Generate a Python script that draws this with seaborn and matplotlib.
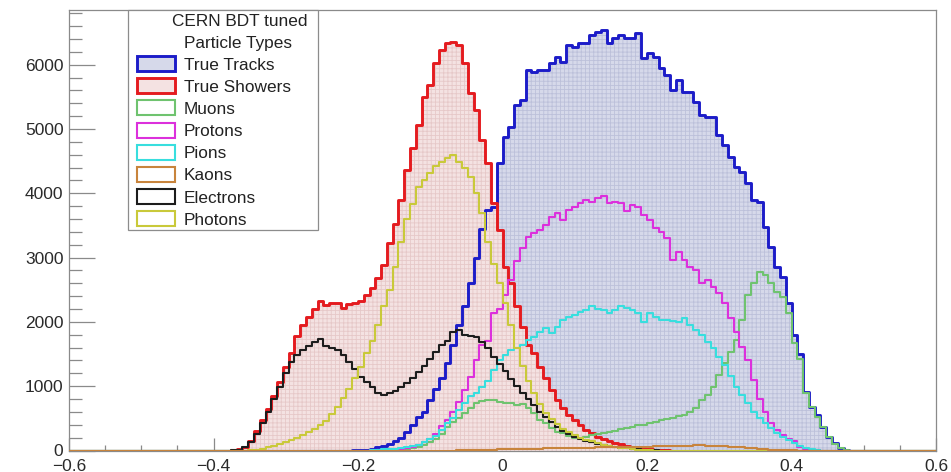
import numpy as np
import pandas as pd
import matplotlib
matplotlib.use("Agg")
import matplotlib.pyplot as plt
from matplotlib.patches import Rectangle
from matplotlib.ticker import MultipleLocator
import seaborn as sns

# ---------------- data (bin contents, 150 bins from -0.6 to 0.6) ----------------
n_bins = 150
x_lo, x_hi = -0.6, 0.6
first_bin = 27          # the lists below start at bin 27 (lower edge -0.384)

true_tracks = [
    0, 0, 0, 0, 0, 0, 0, 0, 0, 0,
    0, 0, 0, 0, 0, 0, 0, 0, 0, 0,
    0, 0, 5, 10, 15, 25, 50, 70, 100, 150,
    200, 290, 390, 520, 600, 780, 960, 1120, 1355, 1640,
    1950, 2250, 2600, 3000, 3450, 3740, 3790, 4465, 4880, 5035,
    5370, 5450, 5915, 5890, 5915, 5915, 6020, 6125, 6045, 6305,
    6280, 6330, 6330, 6460, 6510, 6540, 6330, 6410, 6460, 6410,
    6410, 6500, 6100, 6180, 6125, 5945, 5840, 5605, 5760, 5580,
    5580, 5425, 5220, 5190, 5190, 4905, 4750, 4570, 4415, 4335,
    4155, 3895, 3870, 3480, 3170, 2860, 2700, 2290, 1795, 1500,
    915, 680, 550, 370, 215, 110, 35, 10]

true_showers = [
    0, 5, 20, 60, 150, 300, 470, 650, 850, 1060,
    1300, 1520, 1780, 1950, 2080, 2200, 2330, 2270, 2290, 2290,
    2210, 2280, 2290, 2330, 2420, 2530, 2680, 2885, 3220, 3530,
    3900, 4360, 4700, 5060, 5500, 5685, 6020, 6230, 6340, 6350,
    6300, 6020, 5560, 5300, 4830, 4470, 3850, 3430, 2860, 2600,
    2240, 1925, 1640, 1515, 1300, 1120, 940, 785, 660, 550,
    475, 395, 320, 270, 215, 180, 150, 115, 95, 70,
    60, 45, 35, 25, 15, 10, 5]

muons = [
    0, 0, 0, 0, 0, 0, 0, 0, 0, 0,
    0, 0, 0, 0, 0, 0, 0, 0, 0, 0,
    0, 0, 0, 0, 0, 0, 0, 0, 5, 10,
    20, 30, 45, 60, 90, 130, 180, 250, 370, 450,
    500, 580, 660, 740, 770, 785, 790, 760, 735, 740,
    710, 720, 655, 580, 480, 420, 345, 290, 265, 230,
    200, 190, 210, 240, 250, 265, 290, 300, 330, 350,
    370, 390, 400, 420, 450, 470, 490, 500, 530, 550,
    605, 655, 785, 865, 990, 1175, 1355, 1535, 1720, 2030,
    2420, 2600, 2780, 2730, 2600, 2470, 2390, 2135, 1670, 1420,
    890, 680, 525, 370, 215, 105, 35, 10]

protons = [
    0, 0, 0, 0, 0, 0, 0, 0, 0, 0,
    0, 0, 0, 0, 0, 0, 0, 0, 0, 0,
    0, 0, 0, 0, 0, 5, 10, 15, 20, 25,
    30, 40, 60, 85, 130, 180, 260, 380, 480, 600,
    760, 940, 1150, 1410, 1640, 1700, 2135, 2200, 2420, 2650,
    2950, 3150, 3325, 3375, 3430, 3505, 3635, 3690, 3585, 3740,
    3790, 3845, 3895, 3870, 3920, 3955, 3855, 3870, 3855, 3730,
    3820, 3790, 3660, 3585, 3455, 3400, 3300, 2960, 3090, 2960,
    2860, 2805, 2600, 2650, 2550, 2445, 2290, 2055, 1850, 1615,
    1410, 1095, 800, 600, 430, 320, 240, 185, 150, 60,
    25, 10, 5]

pions = [
    0, 0, 0, 0, 0, 0, 0, 0, 0, 0,
    0, 0, 0, 0, 0, 0, 0, 0, 0, 0,
    0, 0, 0, 0, 0, 10, 15, 20, 25, 30,
    40, 55, 70, 90, 130, 180, 230, 320, 425, 500,
    630, 735, 840, 890, 980, 1080, 1250, 1400, 1480, 1560,
    1600, 1640, 1720, 1770, 1850, 1900, 1820, 1925, 2030, 2080,
    2110, 2160, 2185, 2240, 2200, 2185, 2135, 2185, 2240, 2210,
    2185, 2135, 2005, 2135, 2080, 2030, 2030, 2020, 2005, 2055,
    1950, 1875, 1795, 1690, 1590, 1460, 1330, 1160, 990, 865,
    735, 605, 500, 425, 345, 265, 215, 165, 110, 70,
    45, 20, 10]

kaons = [
    0, 0, 0, 0, 0, 0, 0, 0, 0, 0,
    0, 0, 0, 0, 0, 0, 0, 0, 0, 0,
    0, 0, 0, 0, 0, 0, 0, 0, 0, 0,
    0, 0, 0, 0, 0, 0, 0, 0, 0, 0,
    5, 5, 8, 10, 12, 15, 14, 18, 20, 22,
    25, 24, 28, 30, 31, 33, 35, 34, 38, 40,
    41, 43, 45, 44, 48, 50, 52, 51, 55, 56,
    58, 60, 59, 62, 65, 66, 68, 70, 72, 74,
    75, 78, 80, 77, 75, 72, 68, 62, 55, 48,
    40, 32, 25, 18, 12, 8, 5, 3, 2]

electrons = [
    0, 5, 15, 50, 130, 260, 420, 600, 800, 980,
    1200, 1380, 1480, 1560, 1620, 1680, 1730, 1620, 1590, 1560,
    1480, 1380, 1260, 1140, 1070, 990, 900, 870, 900, 930,
    980, 1050, 1120, 1220, 1320, 1420, 1530, 1640, 1700, 1850,
    1880, 1800, 1780, 1760, 1680, 1600, 1450, 1340, 1230, 1110,
    1000, 900, 800, 700, 600, 520, 440, 360, 300, 250,
    210, 180, 150, 130, 105, 90, 70, 55, 45, 35,
    30, 20, 15, 10, 5]

photons = [
    0, 0, 0, 0, 5, 15, 30, 50, 70, 100,
    130, 160, 200, 240, 280, 330, 390, 460, 560, 680,
    820, 960, 1120, 1300, 1510, 1700, 1950, 2250, 2500, 2850,
    3250, 3600, 3840, 4100, 4200, 4310, 4420, 4490, 4545, 4600,
    4490, 4390, 4260, 4000, 3700, 3250, 2900, 2600, 2300, 1950,
    1600, 1320, 1080, 900, 720, 580, 490, 410, 340, 280,
    240, 200, 170, 140, 115, 90, 75, 60, 45, 35,
    25, 15, 10, 5]

legend_header = ["CERN BDT tuned", "Particle Types"]
series_names = ["True Tracks", "True Showers", "Muons", "Protons",
                "Pions", "Kaons", "Electrons", "Photons"]
series_values = [true_tracks, true_showers, muons, protons,
                 pions, kaons, electrons, photons]
x_ticks = [-0.6, -0.4, -0.2, 0, 0.2, 0.4, 0.6]
x_tick_labels = ["\u22120.6", "\u22120.4", "\u22120.2", "0", "0.2", "0.4", "0.6"]
y_ticks = [0, 1000, 2000, 3000, 4000, 5000, 6000]

# ---------------- styles ----------------
line_colors = {
    "True Tracks": "#1c1cc8", "True Showers": "#e41b1f", "Muons": "#6fc36f",
    "Protons": "#dc30dc", "Pions": "#38dede", "Kaons": "#c8843c",
    "Electrons": "#1c1c1c", "Photons": "#c9c93a"}
fill_colors = {"True Tracks": "#d6d9ea", "True Showers": "#f4e2e2"}
hatch_colors = {"True Tracks": "#bcc0da", "True Showers": "#e6c8c8"}
line_widths = {"True Tracks": 2.1, "True Showers": 2.1}
default_lw = 1.5

edges = np.linspace(x_lo, x_hi, n_bins + 1)
centers = 0.5 * (edges[:-1] + edges[1:])


def full_hist(vals):
    arr = np.zeros(n_bins)
    arr[first_bin:first_bin + len(vals)] = vals
    return arr


frames = []
for name, vals in zip(series_names, series_values):
    frames.append(pd.DataFrame({"x": centers, "w": full_hist(vals), "series": name}))
df = pd.concat(frames, ignore_index=True)

sns.set_style("ticks")
plt.rcParams["font.family"] = ["Liberation Sans", "DejaVu Sans"]
plt.rcParams["axes.unicode_minus"] = True
plt.rcParams["hatch.linewidth"] = 0.6

W, H = 951, 472
fig = plt.figure(figsize=(W / 100, H / 100), dpi=100)
ax_l, ax_r, ax_t, ax_b = 69, 936, 10, 450.5
ax = fig.add_axes([ax_l / W, 1 - ax_b / H, (ax_r - ax_l) / W, (ax_b - ax_t) / H])

hist_kws = dict(x="x", weights="w", bins=n_bins, binrange=(x_lo, x_hi),
                element="step", ax=ax)

# filled areas first (ROOT-like fine grid pattern)
for name in ["True Tracks", "True Showers"]:
    sub = df[df.series == name]
    sns.histplot(data=sub, fill=True, facecolor=fill_colors[name],
                 edgecolor=hatch_colors[name], hatch="++++", alpha=1.0,
                 linewidth=0, zorder=1, **hist_kws)

# outlines
draw_order = ["True Tracks", "True Showers", "Muons", "Protons", "Pions",
              "Electrons", "Photons", "Kaons"]
for k, name in enumerate(draw_order):
    sub = df[df.series == name]
    sns.histplot(data=sub, fill=False, color=line_colors[name],
                 linewidth=line_widths.get(name, default_lw), zorder=3 + k,
                 **hist_kws)

ymax = (ax_b - ax_t) / 0.0643
ax.set_xlim(x_lo, x_hi)
ax.set_ylim(0, ymax)
ax.set_xlabel("")
ax.set_ylabel("")

frame_col = "#8a8a8a"
for sp in ax.spines.values():
    sp.set_color(frame_col)
    sp.set_linewidth(0.9)
    sp.set_visible(True)

ax.set_xticks(x_ticks)
ax.set_xticklabels(x_tick_labels)
ax.set_yticks(y_ticks)
ax.xaxis.set_minor_locator(MultipleLocator(0.05))
ax.yaxis.set_minor_locator(MultipleLocator(200))
ax.tick_params(axis="y", which="major", direction="in", length=18.5, width=0.9,
               color=frame_col, labelsize=12.5, labelcolor="#2a2a2a", pad=4)
ax.tick_params(axis="y", which="minor", direction="in", length=9, width=0.9,
               color=frame_col)
ax.tick_params(axis="x", which="major", direction="in", length=9.3, width=0.9,
               color=frame_col, labelsize=12.5, labelcolor="#2a2a2a", pad=6)
ax.tick_params(axis="x", which="minor", direction="in", length=4.5, width=0.9,
               color=frame_col)
ax.tick_params(top=False, right=False, which="both")


# ---------------- legend (ROOT TLegend style) ----------------
def fx(px):
    return (px - ax_l) / (ax_r - ax_l)


def fy(py):
    return (ax_b - py) / (ax_b - ax_t)


leg = Rectangle((fx(128), fy(230)), fx(318) - fx(128), fy(10) - fy(230),
                transform=ax.transAxes, facecolor="white", edgecolor="#8c8c8c",
                linewidth=0.9, zorder=20, clip_on=False)
ax.add_patch(leg)

leg_fs = 12.4
ax.text(fx(240), fy(20 + 6), legend_header[0], transform=ax.transAxes,
        ha="center", va="baseline", fontsize=leg_fs, color="#222222", zorder=21)
ax.text(fx(238), fy(41.7 + 6), legend_header[1], transform=ax.transAxes,
        ha="center", va="baseline", fontsize=leg_fs, color="#222222", zorder=21)

row0, drow = 63.5, 22.2
for j, name in enumerate(series_names):
    yc = row0 + j * drow
    box = Rectangle((fx(137), fy(yc + 7.5)), fx(175) - fx(137), fy(yc - 7.5) - fy(yc + 7.5),
                    transform=ax.transAxes,
                    facecolor=fill_colors.get(name, "white"),
                    edgecolor=line_colors[name],
                    linewidth=line_widths.get(name, default_lw), zorder=21, clip_on=False)
    ax.add_patch(box)
    ax.text(fx(183.5), fy(yc + 6), name, transform=ax.transAxes, ha="left",
            va="baseline", fontsize=leg_fs, color="#222222", zorder=21)

fig.savefig("out.png", dpi=100)
